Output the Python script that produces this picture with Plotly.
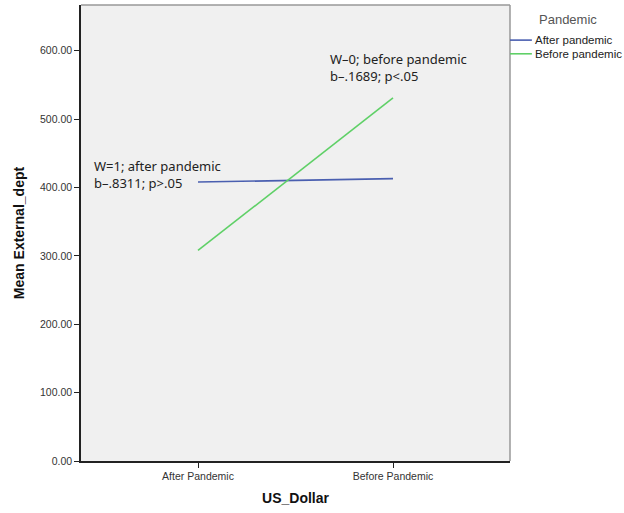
import plotly.graph_objects as go

categories = ["After Pandemic", "Before Pandemic"]
after_pandemic = [408, 413]
before_pandemic = [308, 531]
series_names = ["After pandemic", "Before pandemic"]
series_colors = ["#4a5fb0", "#5fd067"]
y_ticks = [0, 100, 200, 300, 400, 500, 600]
y_tick_labels = ["0.00", "100.00", "200.00", "300.00", "400.00", "500.00", "600.00"]

fig = go.Figure()
for name, vals, col in zip(series_names, [after_pandemic, before_pandemic], series_colors):
    fig.add_trace(go.Scatter(x=categories, y=vals, mode="lines", name=name,
                             line=dict(color=col, width=1.6)))

fig.update_layout(
    width=624, height=513,
    margin=dict(l=81, r=114, t=5, b=52),
    paper_bgcolor="white", plot_bgcolor="#f0f0f0",
    font=dict(family="Liberation Sans, Arial", size=10, color="#333"),
    showlegend=False,
)
fig.update_xaxes(type="category", range=[-0.6, 1.6], showgrid=False, automargin=False,
                 showline=True, linecolor="#222", linewidth=1.5,
                 ticks="outside", ticklen=5, tickcolor="#222",
                 tickfont=dict(size=10.5, color="#333"),
                 title=dict(text="<b>US_Dollar</b>", font=dict(size=14, color="#111"), standoff=12),
                 zeroline=False)
fig.update_yaxes(range=[0, 667], showgrid=False, tickvals=y_ticks, ticktext=y_tick_labels,
                 automargin=False,
                 showline=True, linecolor="#222", linewidth=1.5,
                 ticks="outside", ticklen=5, tickcolor="#222",
                 tickfont=dict(size=10.5, color="#333"),
                 title=dict(text="<b>Mean External_dept</b>", font=dict(size=14, color="#111"), standoff=12),
                 zeroline=False)

# top/right frame in gray
fig.add_shape(type="line", xref="paper", yref="paper", x0=0, x1=1, y0=1, y1=1,
              line=dict(color="#999", width=1.5))
fig.add_shape(type="line", xref="paper", yref="paper", x0=1, x1=1, y0=0, y1=1,
              line=dict(color="#999", width=1.5))

fig.add_annotation(text="W=1; after pandemic<br>b–.8311; p>.05", xref="paper", yref="paper",
                   x=0.025, y=0.672, xanchor="left", yanchor="top", align="left", showarrow=False,
                   font=dict(family="Noto Sans", size=13, color="#222"))
fig.add_annotation(text="W–0; before pandemic<br>b–.1689; p<.05", xref="paper", yref="paper",
                   x=0.575, y=0.905, xanchor="left", yanchor="top", align="left", showarrow=False,
                   font=dict(family="Noto Sans", size=13, color="#222"))

# manual legend
fig.add_annotation(text="Pandemic", xref="paper", yref="paper", x=1.063, y=0.968,
                   xanchor="left", yanchor="middle", showarrow=False,
                   font=dict(size=13, color="#555"))
legend_y = [0.923, 0.893]
for name, col, ly in zip(series_names, series_colors, legend_y):
    fig.add_shape(type="line", xref="paper", yref="paper", x0=1.0, x1=1.051, y0=ly, y1=ly,
                  line=dict(color=col, width=1.6))
    fig.add_annotation(text=name, xref="paper", yref="paper", x=1.054, y=ly,
                       xanchor="left", yanchor="middle", showarrow=False,
                       font=dict(size=11.5, color="#222"))

fig.write_html("out.html", config={"displayModeBar": False},
               post_script="document.body.style.margin='0';")
